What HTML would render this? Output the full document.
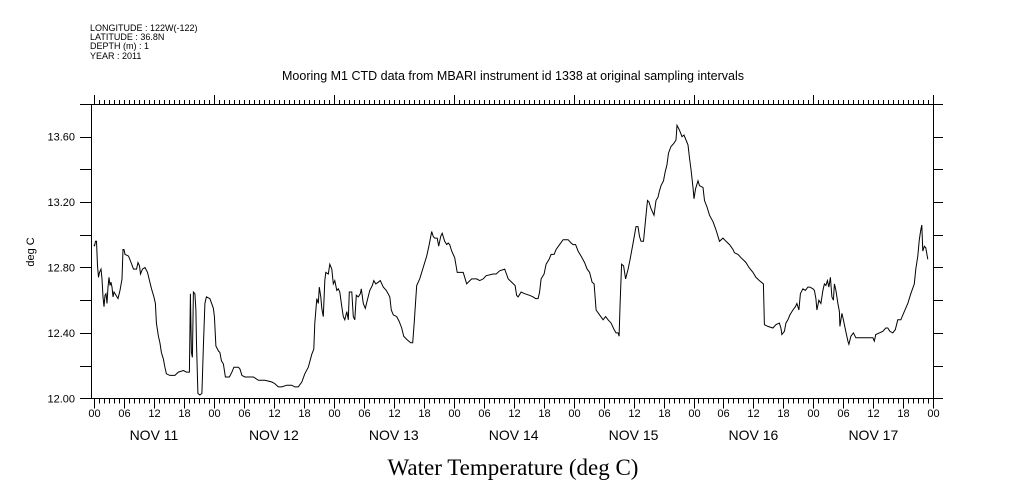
<!DOCTYPE html>
<html><head><meta charset="utf-8"><style>
html,body{margin:0;padding:0;background:#fff;}
svg{display:block;}
</style></head><body>
<svg id="chart" width="1009" height="504" viewBox="0 0 1009 504" xmlns="http://www.w3.org/2000/svg" font-family="Liberation Sans, sans-serif">
<g font-size="9" fill="#000">
<text x="90" y="31">LONGITUDE : 122W(-122)</text>
<text x="90" y="40">LATITUDE : 36.8N</text>
<text x="90" y="49">DEPTH (m) : 1</text>
<text x="90" y="59">YEAR : 2011</text>
</g>
<text x="513" y="80" text-anchor="middle" font-size="12.5">Mooring M1 CTD data from MBARI instrument id 1338 at original sampling intervals</text>
<text transform="translate(34,252) rotate(-90)" text-anchor="middle" font-size="11">deg C</text>
<text x="513" y="475" text-anchor="middle" font-size="23" font-family="Liberation Serif, serif">Water Temperature (deg C)</text>
<g id="axes" stroke="#000" stroke-width="1" fill="none"></g>
<g id="labels" font-size="11" fill="#000"></g>
<path id="line" stroke="#000" stroke-width="1" fill="none"/>
</svg>
<script>
const yTicks = [12.00, 12.40, 12.80, 13.20, 13.60];
const dayLabels = ["NOV 11","NOV 12","NOV 13","NOV 14","NOV 15","NOV 16","NOV 17"];
const hourLabels = ["00","06","12","18"];
const hours = [0,0.1,0.3,0.5,0.7,0.9,1.1,1.4,1.6,1.8,2.0,2.2,2.4,2.6,2.8,3.0,3.2,3.4,3.6,3.8,4.0,4.4,4.8,5.2,5.6,5.8,6.0,6.2,6.9,7.3,7.9,8.5,8.8,9.1,9.3,9.7,10.2,10.7,11.1,11.5,12.0,12.3,12.5,12.9,13.2,13.5,13.9,14.2,14.5,15.2,16.2,16.9,17.9,18.5,19.1,19.3,19.5,19.7,19.9,20.2,20.4,20.5,20.8,21.2,21.6,21.9,22.2,22.5,23.2,23.9,24.1,24.4,24.9,25.2,25.5,25.9,26.3,27.1,27.6,28.0,28.9,29.2,29.6,30.2,30.9,31.9,32.9,34.2,35.6,36.2,36.9,37.6,38.6,39.6,40.2,40.9,41.6,42.2,42.9,43.6,44.0,44.2,44.6,44.9,45.1,45.4,45.6,45.9,46.2,46.4,46.9,47.2,47.6,47.9,48.2,48.6,48.9,49.2,49.6,49.9,50.2,50.6,50.9,51.1,51.6,51.9,52.2,52.5,52.9,53.3,53.5,53.9,54.3,54.7,55.2,55.7,56.0,56.4,56.9,57.3,57.9,58.5,59.2,59.5,59.9,60.6,61.1,61.6,62.0,62.6,63.4,63.8,64.1,64.4,64.6,65.2,65.9,66.6,67.1,67.6,67.9,68.2,68.7,69.0,69.4,69.7,70.2,70.6,70.9,71.2,71.6,72.2,72.7,73.2,73.9,74.2,74.6,74.9,75.6,76.6,77.2,77.9,78.5,79.9,80.5,81.2,82.2,82.9,83.6,84.3,84.6,84.9,85.3,85.5,86.2,87.2,87.9,88.4,88.9,89.2,89.5,90.1,90.5,91.1,91.5,92.1,92.5,93.2,93.9,94.9,95.5,95.9,96.4,96.9,97.5,98.2,98.7,99.2,99.7,100.1,100.5,101.2,101.9,102.4,102.9,103.5,104.1,104.5,104.9,105.1,105.3,105.6,106.0,106.4,106.9,107.3,107.9,108.5,108.9,109.2,109.5,110.0,110.5,110.8,111.1,111.5,112.1,112.5,112.9,113.2,113.5,114.0,114.3,114.7,115.0,115.5,116.1,116.5,116.7,117.2,117.7,118.1,118.5,118.9,119.2,119.5,119.9,120.1,120.4,120.9,121.2,121.9,122.2,122.7,123.2,123.9,124.5,125.2,125.9,126.5,127.2,127.9,128.2,128.9,129.5,130.2,130.5,131.1,131.9,132.5,133.2,134.0,134.2,134.9,135.9,136.5,137.2,137.5,137.7,138.2,138.5,138.9,139.3,139.9,140.4,140.7,141.1,141.4,141.9,142.4,142.9,143.3,143.9,144.2,144.5,144.7,145.1,145.5,145.9,146.2,146.5,146.8,147.1,147.4,147.7,148.0,148.2,148.5,148.9,149.2,149.3,149.7,150.0,150.4,150.9,151.1,151.5,152.0,152.5,153.2,153.9,154.5,155.2,155.9,156.2,156.5,157.2,157.9,158.5,158.9,159.3,159.9,160.4,160.9,161.5,162.2,162.9,163.5,164.2,164.5,164.9,165.2,165.5,165.7,165.9,166.2,166.5,166.9];
const temps = [12.94,12.93,12.96,12.96,12.81,12.74,12.77,12.79,12.73,12.62,12.56,12.63,12.64,12.58,12.68,12.74,12.69,12.71,12.68,12.62,12.65,12.63,12.61,12.66,12.73,12.91,12.91,12.88,12.87,12.84,12.79,12.79,12.83,12.81,12.76,12.79,12.80,12.77,12.72,12.67,12.62,12.58,12.46,12.38,12.34,12.28,12.24,12.19,12.15,12.14,12.14,12.16,12.17,12.16,12.16,12.64,12.28,12.25,12.65,12.64,12.54,12.36,12.03,12.02,12.03,12.32,12.58,12.62,12.61,12.55,12.50,12.32,12.29,12.28,12.23,12.21,12.13,12.13,12.16,12.19,12.19,12.18,12.14,12.13,12.13,12.13,12.11,12.11,12.10,12.09,12.07,12.07,12.08,12.08,12.07,12.07,12.10,12.15,12.19,12.27,12.30,12.46,12.61,12.58,12.68,12.62,12.55,12.50,12.72,12.77,12.76,12.82,12.79,12.70,12.72,12.66,12.67,12.65,12.56,12.50,12.48,12.53,12.48,12.65,12.65,12.50,12.48,12.63,12.62,12.64,12.67,12.58,12.55,12.60,12.66,12.69,12.72,12.70,12.71,12.72,12.68,12.66,12.62,12.54,12.51,12.50,12.47,12.43,12.38,12.36,12.34,12.34,12.46,12.60,12.69,12.73,12.80,12.87,12.94,13.02,12.99,12.98,12.98,12.93,12.99,13.01,12.96,12.94,12.95,12.94,12.90,12.86,12.77,12.77,12.77,12.74,12.70,12.71,12.73,12.73,12.72,12.73,12.75,12.76,12.76,12.78,12.79,12.73,12.71,12.69,12.63,12.62,12.64,12.65,12.64,12.63,12.62,12.61,12.61,12.65,12.73,12.76,12.82,12.85,12.88,12.88,12.91,12.94,12.97,12.97,12.95,12.94,12.94,12.90,12.87,12.83,12.79,12.77,12.71,12.70,12.54,12.51,12.48,12.50,12.48,12.46,12.42,12.40,12.40,12.38,12.58,12.82,12.81,12.73,12.79,12.85,12.95,13.05,13.05,12.99,12.96,12.96,13.12,13.21,13.20,13.16,13.12,13.21,13.23,13.27,13.30,13.33,13.38,13.43,13.50,13.54,13.56,13.58,13.67,13.64,13.60,13.61,13.58,13.55,13.47,13.40,13.29,13.22,13.28,13.33,13.30,13.29,13.21,13.17,13.12,13.08,13.03,12.96,12.98,12.96,12.94,12.91,12.89,12.88,12.86,12.84,12.83,12.80,12.77,12.74,12.72,12.70,12.45,12.44,12.43,12.45,12.46,12.43,12.39,12.41,12.46,12.48,12.51,12.54,12.56,12.58,12.54,12.64,12.67,12.66,12.68,12.68,12.67,12.66,12.61,12.54,12.60,12.58,12.66,12.70,12.69,12.72,12.68,12.74,12.62,12.60,12.70,12.66,12.58,12.53,12.44,12.52,12.48,12.42,12.35,12.33,12.38,12.40,12.37,12.37,12.37,12.37,12.37,12.37,12.35,12.39,12.40,12.41,12.43,12.43,12.41,12.40,12.42,12.48,12.48,12.53,12.58,12.64,12.70,12.79,12.87,12.97,13.03,13.06,12.90,12.93,12.92,12.85];

const X0 = 94, PX_PER_HOUR = 119.9/24;
const Y0 = 398.3, PX_PER_DEG = 163.5;
const xScale = h => X0 + h*PX_PER_HOUR;
const yScale = t => Y0 - (t-12)*PX_PER_DEG;
const LEFT = 91, RIGHT = 933, TOP = 104, BOTTOM = 398.5;
const NS = "http://www.w3.org/2000/svg";
const axes = document.getElementById('axes');
const labels = document.getElementById('labels');
function ln(x1,y1,x2,y2,name){
  const l = document.createElementNS(NS,'line');
  l.setAttribute('x1',x1);l.setAttribute('y1',y1);l.setAttribute('x2',x2);l.setAttribute('y2',y2);
  
  
  axes.appendChild(l);
}
function tx(x,y,s,anchor,size,name){
  const t = document.createElementNS(NS,'text');
  t.setAttribute('x',x);t.setAttribute('y',y);t.setAttribute('text-anchor',anchor);
  if(size) t.setAttribute('font-size',size);
  t.textContent = s;
  
  
  labels.appendChild(t);
}
ln(80,TOP+0.5,943,TOP+0.5,'top-axis');
ln(80,BOTTOM,943,BOTTOM,'bottom-axis');
ln(LEFT+0.5,TOP,LEFT+0.5,BOTTOM,'left-axis');
ln(RIGHT+0.5,TOP,RIGHT+0.5,BOTTOM,'right-axis');
for(let i=0;i<=8;i++){
  const v = 12 + i*0.2;
  const y = Math.round(yScale(v))+0.5;
  ln(80,y,LEFT,y,'y-tick-left');
  ln(RIGHT,y,943,y,'y-tick-right');
}
yTicks.forEach(v=>{ tx(75, yScale(v)+4, v.toFixed(2), 'end', 11, 'y-tick-label'); });
const nDays = dayLabels.length;
for(let h=0; h<=nDays*24; h++){
  const x = Math.round(xScale(h))+0.5;
  const isDay = h%24===0, is6 = h%6===0;
  ln(x,TOP,x,TOP-(isDay?9:4),'x-tick-top');
  ln(x,BOTTOM,x,BOTTOM+(is6?10:5),'x-tick-bottom');
  if(is6) tx(x, 417, hourLabels[(h/6)%4], 'middle', 11, 'x-hour-label');
}
dayLabels.forEach((d,i)=>{ tx(xScale(i*24+12), 440, d, 'middle', 14, 'x-day-label'); });
let dpath = '';
hours.forEach((h,i)=>{ dpath += (i?'L':'M') + xScale(h).toFixed(1) + ' ' + yScale(temps[i]).toFixed(1); });
document.getElementById('line').setAttribute('d', dpath);
</script>
</body></html>
